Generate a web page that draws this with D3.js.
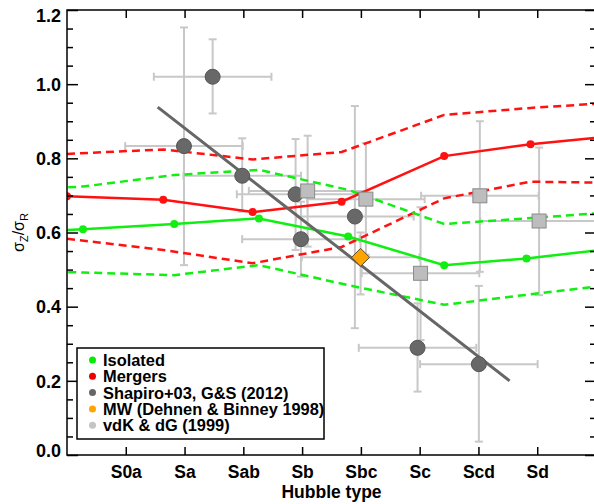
<!DOCTYPE html>
<html>
<head>
<meta charset="utf-8">
<script src="https://cdn.jsdelivr.net/npm/d3@7"></script>
<style>
  body { margin: 0; background: #fff; }
  text { font-family: "Liberation Sans", Arial, sans-serif; font-weight: bold; }
</style>
</head>
<body>
<div id="chart-area"></div>
<script>
// hubble types on the x axis (index 0..7)
var hubbleTypes = ["S0a", "Sa", "Sab", "Sb", "Sbc", "Sc", "Scd", "Sd"];
var yMajor = [0, 0.2, 0.4, 0.6, 0.8, 1.0, 1.2];
var yMinor = [0.05, 0.1, 0.15, 0.25, 0.3, 0.35, 0.45, 0.5, 0.55, 0.65, 0.7, 0.75, 0.85, 0.9, 0.95, 1.05, 1.1, 1.15];

// mergers (red)
var mergerX     = [-1.0, 0.638, 2.158, 3.672, 5.417, 6.886, 8.3];
var mergerMean  = [0.698, 0.688, 0.655, 0.683, 0.806, 0.838, 0.860];
var mergerUpper = [0.812, 0.824, 0.797, 0.817, 0.917, 0.936, 0.950];
var mergerLower = [0.583, 0.553, 0.517, 0.561, 0.692, 0.737, 0.734];

// isolated (green)
var isoX     = [-1.2, -0.728, 0.825, 2.265, 3.784, 5.417, 6.818, 8.3];
var isoMean  = [0.605, 0.609, 0.623, 0.638, 0.589, 0.512, 0.530, 0.557];
var isoUpper = [0.720, 0.724, 0.755, 0.769, 0.715, 0.623, 0.638, 0.655];
var isoLower = [0.494, 0.492, 0.485, 0.512, 0.458, 0.405, 0.432, 0.460];

// Shapiro+03, G&S (2012)
var shapX  = [0.99, 1.478, 1.981, 2.889, 2.98, 3.898, 4.964, 6.007];
var shapY  = [0.833, 1.020, 0.753, 0.703, 0.582, 0.643, 0.289, 0.245];
var shapLo = [0.512, 0.921, 0.656, 0.553, 0.481, 0.342, 0.171, 0.036];
var shapHi = [1.153, 1.121, 0.854, 0.852, 0.683, 0.941, 0.409, 0.456];

// MW (Dehnen & Binney 1998)
var mwX = [3.995], mwY = [0.533], mwLo = [0.433], mwHi = [0.600];

// vdK & dG (1999)
var vdkX  = [3.094, 4.085, 5.015, 6.024, 7.032];
var vdkY  = [0.712, 0.690, 0.490, 0.699, 0.631];
var vdkLo = [0.562, 0.540, 0.310, 0.494, 0.431];
var vdkHi = [0.861, 0.841, 0.668, 0.900, 0.829];

var xErr = 1.0; // +/- one hubble type

// fit line through the observations
var fitX = [0.543, 6.53];
var fitY = [0.938, 0.200];

var legendItems = [
    {label: "Isolated", color: "#00ee00"},
    {label: "Mergers", color: "#ee0000"},
    {label: "Shapiro+03, G&S (2012)", color: "#666666"},
    {label: "MW (Dehnen & Binney 1998)", color: "#ffa500"},
    {label: "vdK & dG (1999)", color: "#c4c4c4"}
];

var W = 594, H = 504;
var plot = {left: 67, right: 596, top: 10, bottom: 455};

var svg = d3.select("#chart-area")
    .append("svg")
        .attr("width", W)
        .attr("height", H);

var x = d3.scaleLinear().domain([-1, 8]).range([plot.left, plot.right]);
var y = d3.scaleLinear().domain([0, 1.2]).range([plot.bottom, plot.top]);

svg.append("defs").append("clipPath")
    .attr("id", "clip")
    .append("rect")
        .attr("x", plot.left).attr("y", plot.top)
        .attr("width", plot.right - plot.left)
        .attr("height", plot.bottom - plot.top);

var g = svg.append("g").attr("clip-path", "url(#clip)");

function zip(xs, ys) { return xs.map(function(v, i) { return [v, ys[i]]; }); }
function pts(xs, ys, lo, hi) {
    return xs.map(function(v, i) { return {x: v, y: ys[i], lo: lo[i], hi: hi[i]}; });
}

// error bars
var errColor = "#c8c8c8";
var cap = 4;
function errorBars(data) {
    var eb = g.append("g")
        .attr("stroke", errColor)
        .attr("stroke-width", 2)
        .attr("fill", "none");
    data.forEach(function(d) {
        var cx = x(d.x), cy = y(d.y);
        var x0 = x(d.x - xErr), x1 = x(d.x + xErr);
        var y0 = y(d.lo), y1 = y(d.hi);
        eb.append("line").attr("x1", x0).attr("x2", x1).attr("y1", cy).attr("y2", cy);
        eb.append("line").attr("x1", x0).attr("x2", x0).attr("y1", cy - cap).attr("y2", cy + cap);
        eb.append("line").attr("x1", x1).attr("x2", x1).attr("y1", cy - cap).attr("y2", cy + cap);
        eb.append("line").attr("x1", cx).attr("x2", cx).attr("y1", y0).attr("y2", y1);
        eb.append("line").attr("x1", cx - cap).attr("x2", cx + cap).attr("y1", y0).attr("y2", y0);
        eb.append("line").attr("x1", cx - cap).attr("x2", cx + cap).attr("y1", y1).attr("y2", y1);
    });
}

var shapData = pts(shapX, shapY, shapLo, shapHi);
var mwData = pts(mwX, mwY, mwLo, mwHi);
var vdkData = pts(vdkX, vdkY, vdkLo, vdkHi);
errorBars(shapData);
errorBars(vdkData);
errorBars(mwData);

var line = d3.line()
    .x(function(d) { return x(d[0]); })
    .y(function(d) { return y(d[1]); });

function dashed(xs, ys, color) {
    g.append("path")
        .datum(zip(xs, ys))
        .attr("fill", "none")
        .attr("stroke", color)
        .attr("stroke-width", 2.5)
        .attr("stroke-dasharray", "8,5")
        .attr("d", line);
}
function solid(xs, ys, color) {
    g.append("path")
        .datum(zip(xs, ys))
        .attr("fill", "none")
        .attr("stroke", color)
        .attr("stroke-width", 2.5)
        .attr("d", line);
    g.append("g").selectAll("circle")
        .data(zip(xs, ys))
        .enter().append("circle")
        .attr("cx", function(d) { return x(d[0]); })
        .attr("cy", function(d) { return y(d[1]); })
        .attr("r", 4)
        .attr("fill", color);
}

var green = "#11ee11", red = "#ff1111";
dashed(mergerX, mergerUpper, red);
dashed(mergerX, mergerLower, red);
dashed(isoX, isoUpper, green);
dashed(isoX, isoLower, green);
solid(mergerX, mergerMean, red);
solid(isoX, isoMean, green);

// fit line
g.append("path")
    .datum(zip(fitX, fitY))
    .attr("fill", "none")
    .attr("stroke", "#666")
    .attr("stroke-width", 3)
    .attr("d", line);

// markers
g.append("g").selectAll("circle")
    .data(shapData)
    .enter().append("circle")
    .attr("cx", function(d) { return x(d.x); })
    .attr("cy", function(d) { return y(d.y); })
    .attr("r", 7.5)
    .attr("fill", "#686868")
    .attr("stroke", "#555")
    .attr("stroke-width", 1);

g.append("g").selectAll("rect")
    .data(vdkData)
    .enter().append("rect")
    .attr("x", function(d) { return x(d.x) - 7; })
    .attr("y", function(d) { return y(d.y) - 7; })
    .attr("width", 14)
    .attr("height", 14)
    .attr("fill", "#bdbdbd")
    .attr("stroke", "#8a8a8a")
    .attr("stroke-width", 1);

g.append("g").selectAll("path")
    .data(mwData)
    .enter().append("path")
    .attr("transform", function(d) { return "translate(" + x(d.x) + "," + y(d.y) + ")"; })
    .attr("d", "M0,-9L9,0L0,9L-9,0Z")
    .attr("fill", "#ffa500")
    .attr("stroke", "#5a4a30")
    .attr("stroke-width", 1);

// axes
var tickIdx = d3.range(hubbleTypes.length);
var axes = svg.append("g");

var bottom = axes.append("g")
    .attr("transform", "translate(0," + plot.bottom + ")")
    .call(d3.axisBottom(x).tickValues(tickIdx).tickSize(-8).tickPadding(11)
        .tickFormat(function(d) { return hubbleTypes[d]; }));
bottom.selectAll("text").style("font-size", "17.5px").attr("fill", "#000");

axes.append("g")
    .attr("transform", "translate(0," + plot.top + ")")
    .call(d3.axisTop(x).tickValues(tickIdx).tickSize(-8).tickFormat(""));

var left = axes.append("g")
    .attr("transform", "translate(" + plot.left + ",0)")
    .call(d3.axisLeft(y).tickValues(yMajor).tickSize(-11).tickPadding(6)
        .tickFormat(d3.format(".1f")));
left.selectAll("text").style("font-size", "18px").attr("fill", "#000")
    .attr("dy", function(d) { return d === 1.2 ? "0.62em" : (d === 0 ? "0.08em" : "0.35em"); });

axes.append("g")
    .attr("transform", "translate(" + plot.left + ",0)")
    .call(d3.axisLeft(y).tickValues(yMinor).tickSize(-6).tickFormat(""));

axes.append("g")
    .attr("transform", "translate(" + plot.right + ",0)")
    .call(d3.axisRight(y).tickValues(yMajor).tickSize(-11).tickFormat(""));
axes.append("g")
    .attr("transform", "translate(" + plot.right + ",0)")
    .call(d3.axisRight(y).tickValues(yMinor).tickSize(-6).tickFormat(""));

axes.selectAll(".domain").remove();
axes.selectAll(".tick line").attr("stroke", "#000").attr("stroke-width", 1.5);

svg.append("rect")
    .attr("x", plot.left).attr("y", plot.top)
    .attr("width", plot.right - plot.left)
    .attr("height", plot.bottom - plot.top)
    .attr("fill", "none")
    .attr("stroke", "#000")
    .attr("stroke-width", 1.5);

// axis titles
svg.append("text")
    .attr("x", (plot.left + plot.right) / 2)
    .attr("y", 498)
    .attr("text-anchor", "middle")
    .style("font-size", "17.5px")
    .text("Hubble type");

var yt = svg.append("text")
    .attr("transform", "translate(24," + ((plot.top + plot.bottom) / 2) + ") rotate(-90)")
    .attr("text-anchor", "middle")
    .style("font-size", "16px")
    .style("font-weight", "normal");
yt.append("tspan").text("σ");
yt.append("tspan").attr("dy", 4).style("font-size", "11px").text("Z");
yt.append("tspan").attr("dy", -4).text("/σ");
yt.append("tspan").attr("dy", 4).style("font-size", "11px").text("R");

// legend
var lg = svg.append("g").attr("transform", "translate(77,348)");
lg.append("rect")
    .attr("width", 247).attr("height", 91)
    .attr("fill", "#fff")
    .attr("stroke", "#000")
    .attr("stroke-width", 1.5);
var rows = lg.selectAll(".row")
    .data(legendItems)
    .enter().append("g")
    .attr("transform", function(d, i) { return "translate(0," + (12 + i * 16.3) + ")"; });
rows.append("circle")
    .attr("cx", 15.5).attr("r", 3.5)
    .attr("fill", function(d) { return d.color; });
rows.append("text")
    .attr("x", 26)
    .attr("dy", "0.36em")
    .style("font-size", "16.4px")
    .text(function(d) { return d.label; });
</script>
</body>
</html>
